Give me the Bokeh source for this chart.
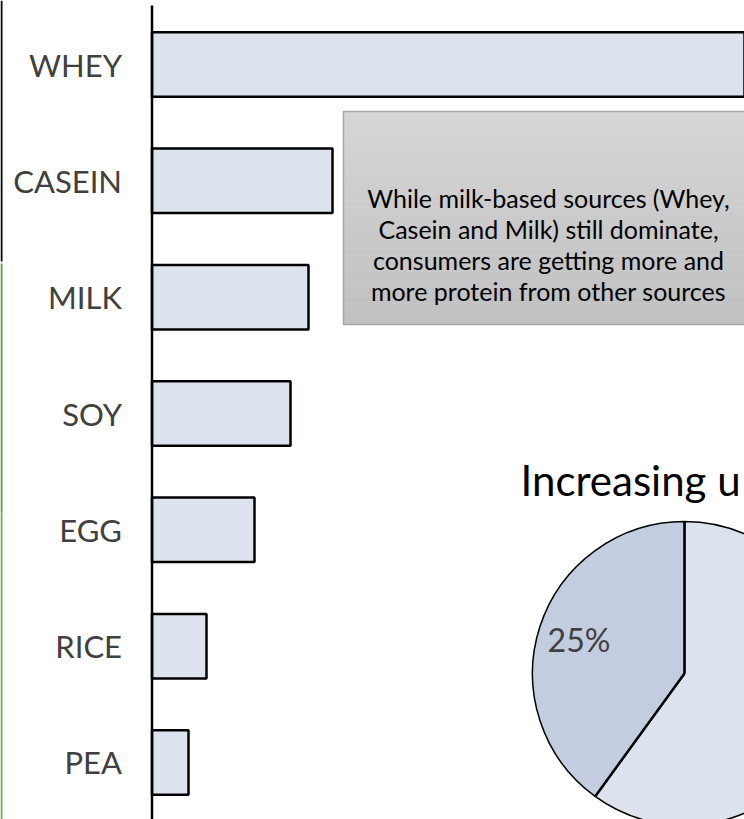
import numpy as np
from bokeh.plotting import figure
from bokeh.models import Range1d, ColumnDataSource
from bokeh.core.properties import value
from bokeh.embed import file_html
from bokeh.resources import INLINE

# ---------------- data ----------------
categories = ["WHEY", "CASEIN", "MILK", "SOY", "EGG", "RICE", "PEA"]
protein_values = [720, 180.5, 156.5, 138.5, 102.5, 54.5, 36.5]

pie_shares = [60, 40]
pie_labels = ["", "25%"]
pie_colors = ["#dce3ee", "#c3cde0"]

note_lines = [
    "While milk-based sources (Whey,",
    "Casein and Milk) still dominate,",
    "consumers are getting more and",
    "more protein from other sources",
]
title_text = "Increasing u"

# ---------------- figure ----------------
W, H = 744, 819
FONT = "Lato"

p = figure(width=W, height=H, output_backend="svg", toolbar_location=None,
           x_range=Range1d(-151.5, 592.5), y_range=Range1d(6.490, -0.5502),
           x_axis_location=None, y_axis_location=None, min_border=0)
p.grid.visible = False
p.outline_line_color = None
p.background_fill_color = "white"
p.border_fill_color = "white"

p.extra_x_ranges = {"px": Range1d(0, W)}
p.extra_y_ranges = {"pxd": Range1d(H, 0), "pxu": Range1d(0, H)}

# slide edge decorations
p.segment(x0=[1, 1, 1], y0=[0, 263, 512], x1=[1, 1, 1], y1=[261, 512, H],
          line_color=["black", "#5a9a3a", "#70ad47"], line_width=2,
          x_range_name="px", y_range_name="pxd")

# ---------------- bars ----------------
idx = list(range(len(categories)))
src = ColumnDataSource(dict(y=idx, right=protein_values, cat=categories))
p.hbar(y="y", left=0, right="right", height=0.555, source=src,
       fill_color="#dce3ee", line_color="black", line_width=2.5)

# category axis line
p.segment(x0=[0], y0=[-0.507], x1=[0], y1=[6.49], line_color="black", line_width=2.5)

p.text(x=-30, y="y", text="cat", source=src, text_align="right", text_baseline="middle",
       text_font=value(FONT), text_font_size="31px", text_color="#404040")

# ---------------- note box ----------------
bx0, bx1, by0, by1 = 343, 760, 111, 324
n = 40
edges = np.linspace(by0, by1, n + 1)
c0 = np.array([0xd6, 0xd6, 0xd6]); c1 = np.array([0xc0, 0xc0, 0xc0])
cols = []
for k in range(n):
    t = k / (n - 1)
    c = (c0 * (1 - t) + c1 * t).round().astype(int)
    cols.append("#%02x%02x%02x" % tuple(c))
p.quad(left=bx0, right=bx1, top=edges[:-1], bottom=edges[1:] + 0.5, fill_color=cols,
       line_color=None, x_range_name="px", y_range_name="pxd")
p.quad(left=[bx0], right=[bx1], top=[by0], bottom=[by1], fill_color=None,
       line_color="#a6a6a6", line_width=1.5, x_range_name="px", y_range_name="pxd")

p.text(x=548, y=[197 + 31 * i for i in range(len(note_lines))], text=note_lines,
       text_align="center", text_baseline="alphabetic",
       text_font=value(FONT), text_font_size="25px", text_color="black",
       x_range_name="px", y_range_name="pxd")

# ---------------- pie ----------------
cx, cy, r = 684, H - 673, 152
shares = np.array(pie_shares, dtype=float)
cum = np.concatenate([[0], np.cumsum(shares) / shares.sum()])
start = np.deg2rad(90 - 360 * cum[1:])
end = np.deg2rad(90 - 360 * cum[:-1])
p.wedge(x=cx, y=cy, radius=r, radius_units="screen", start_angle=start, end_angle=end,
        direction="anticlock", fill_color=pie_colors, line_color="black", line_width=1.5,
        x_range_name="px", y_range_name="pxu")
bound = np.deg2rad(90 - 360 * cum[:-1])
p.segment(x0=cx, y0=cy, x1=cx + r * np.cos(bound), y1=cy + r * np.sin(bound),
          line_color="black", line_width=2.5, x_range_name="px", y_range_name="pxu")
mid = (start + end) / 2
p.text(x=cx + 0.73 * r * np.cos(mid), y=cy + 0.73 * r * np.sin(mid), text=pie_labels,
       text_align="center", text_baseline="middle",
       text_font=value(FONT), text_font_size="32px", text_color="#404040",
       x_range_name="px", y_range_name="pxu")

# title of pie
p.text(x=[520], y=[479], text=[title_text], text_align="left", text_baseline="alphabetic",
       text_font=value(FONT), text_font_size="42px", text_color="black",
       x_range_name="px", y_range_name="pxd")

open("out.html", "w").write(file_html(p, INLINE))
